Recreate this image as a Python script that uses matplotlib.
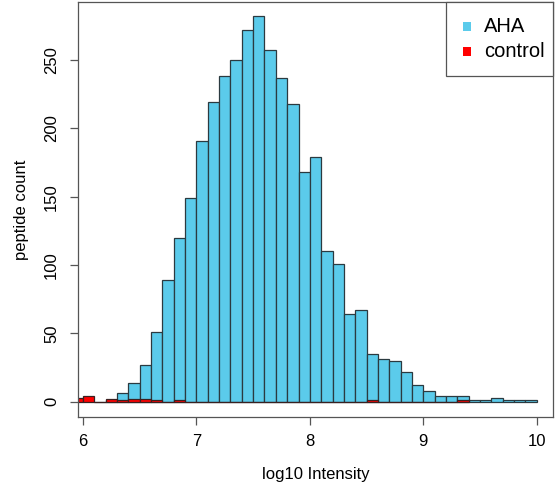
import matplotlib.pyplot as plt
import numpy as np
from matplotlib.patches import Rectangle

plt.rcParams['font.family'] = ['Liberation Sans', 'DejaVu Sans']

# bin edges of 0.1 log10 units
blue_start = 6.1
aha_counts = [0, 1, 6, 14, 27, 51, 89, 120, 149, 191,
              219, 238, 250, 272, 282, 257, 237, 218, 168, 179,
              110, 101, 64, 67, 35, 31, 30, 22, 12, 8,
              4, 4, 4, 1, 1, 3, 1, 1, 1]

red_start = 5.9
control_counts = [3, 4, 0, 2, 1, 2, 2, 1, 0, 1,
                  0, 0, 0, 0, 0, 0, 0, 0, 0, 0,
                  0, 0, 0, 0, 0, 0, 1, 0, 0, 0,
                  0, 0, 0, 0, 1]

x_ticks = [6, 7, 8, 9, 10]
y_ticks = [0, 50, 100, 150, 200, 250]
legend_labels = ['AHA', 'control']

blue = '#5BCBEB'
red = '#FF0000'
W, H = 555, 498

fig = plt.figure(figsize=(5.55, 4.98), dpi=100)
ax = fig.add_axes([0.14, 0.1633, 0.8564, 0.8327])

w = 0.1
bx = blue_start + w * np.arange(len(aha_counts))
ax.bar(bx, aha_counts, width=w, align='edge', color=blue,
       edgecolor='#2b3a40', linewidth=0.9)
rx = red_start + w * np.arange(len(control_counts))
ax.bar(rx, control_counts, width=w, align='edge', color=red,
       edgecolor='#3a2020', linewidth=0.9)

ax.set_xlim(5.953, 10.144)
ax.set_ylim(-11, 292.5)
ax.set_xticks(x_ticks)
ax.set_yticks(y_ticks)
ax.tick_params(axis='both', direction='out', length=5.5, width=0.9,
               color='#555555', labelsize=12)
ax.tick_params(axis='x', pad=7)
ax.tick_params(axis='y', pad=8)
for lab in ax.get_yticklabels():
    lab.set_rotation(90)
    lab.set_va('center')
for s in ax.spines.values():
    s.set_color('#555555')
    s.set_linewidth(0.9)

ax.set_xlabel('log10 Intensity', fontsize=12, labelpad=13)
ax.set_ylabel('peptide count', fontsize=12, labelpad=11)

# R-style legend box in the top right corner (pixel positions)
box = Rectangle((446 / W, 1 - 75.7 / H), (553 - 446) / W, (75.7 - 2) / H,
                transform=fig.transFigure, facecolor='white',
                edgecolor='#555555', linewidth=0.9, zorder=5)
fig.patches.append(box)
for lab, col, yc in zip(legend_labels, [blue, red], [26.7, 51.7]):
    fig.patches.append(Rectangle(((467 - 4.5) / W, 1 - (yc + 4.5) / H),
                                 9 / W, 9 / H, transform=fig.transFigure,
                                 facecolor=col, edgecolor='none', zorder=6))
    fig.text(484 / W, 1 - yc / H, lab, fontsize=14.5, va='center',
             ha='left', zorder=7)

fig.savefig('out.png', dpi=100)
